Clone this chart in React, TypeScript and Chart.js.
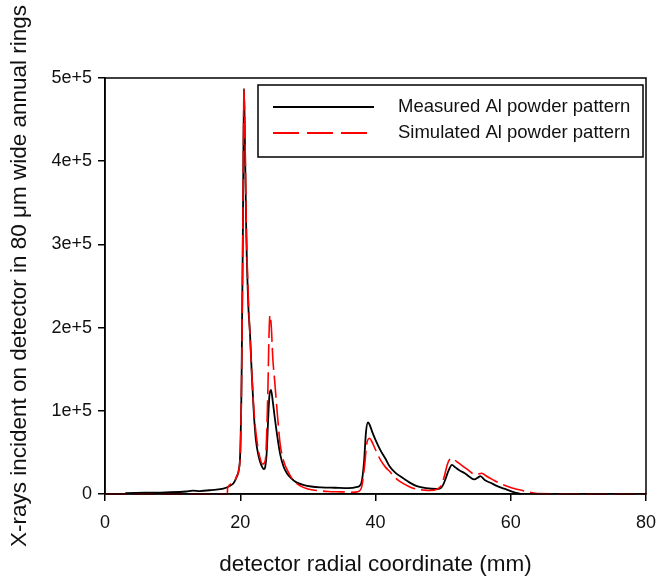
import React, { useEffect, useRef } from "react";
import { Chart, registerables } from "chart.js";

Chart.register(...registerables);

// Measured Al powder pattern (x in mm, y in counts)
const measuredX = [3, 6, 9, 12, 13, 14, 16, 17.5, 18.5, 19.0, 19.5, 19.8, 20.0, 20.2, 20.4, 20.55, 20.7, 20.9, 21.2, 21.45, 21.7, 22.0, 22.3, 22.7, 23.1, 23.5, 23.7, 23.9, 24.1, 24.3, 24.55, 24.8, 25.1, 25.5, 25.9, 26.4, 26.9, 27.5, 28.3, 29.3, 30.5, 32, 34, 36, 37.3, 37.9, 38.3, 38.6, 38.9, 39.2, 39.5, 40.0, 40.7, 41.5, 42.1, 43.0, 44.1, 45.0, 46.1, 47.5, 49.0, 49.6, 50.0, 50.3, 50.8, 51.3, 51.8, 52.5, 53.2, 54.0, 54.6, 55.2, 55.5, 56.2, 57, 58, 59, 60, 60.8, 61.6];
const measuredY = [1000, 1500, 2000, 3000, 4000, 3500, 5000, 6500, 10000, 13000, 21000, 30000, 50000, 140000, 330000, 487000, 420000, 310000, 225000, 192000, 145000, 98000, 66000, 46000, 35000, 30000, 33000, 48000, 85000, 117000, 125000, 112000, 92000, 68000, 48000, 33000, 25000, 19000, 14000, 11000, 9000, 8000, 7500, 7000, 8500, 13000, 38000, 75000, 86000, 82000, 75000, 65000, 53000, 42000, 33000, 25000, 19000, 14000, 9500, 7000, 6000, 7000, 11000, 17000, 28000, 35000, 32000, 28000, 25000, 20000, 17500, 20000, 21600, 16500, 13500, 9500, 6500, 3500, 1500, 0];

// Simulated Al powder pattern
const simulatedX = [0, 18.1, 18.12, 19.0, 19.5, 20.0, 20.2, 20.4, 20.55, 20.7, 20.9, 21.2, 21.5, 21.8, 22.1, 22.5, 22.9, 23.3, 23.7, 23.9, 24.1, 24.25, 24.4, 24.6, 24.8, 25.1, 25.5, 25.9, 26.4, 27.0, 27.8, 28.8, 30, 31.5, 33, 35, 36.5, 37.5, 38.0, 38.4, 38.7, 39.1, 39.4, 39.9, 40.8, 41.5, 42.1, 43, 44, 45, 46, 47, 48, 49, 49.7, 50.2, 50.6, 51.0, 51.3, 52, 53, 54, 54.7, 55.2, 55.7, 56.5, 57.4, 58.5, 59.4, 60.5, 61.4, 62.8, 64, 80];
const simulatedY = [0, 0, 7000, 13000, 22000, 45000, 140000, 330000, 487000, 430000, 320000, 235000, 180000, 130000, 92000, 62000, 44000, 36000, 40000, 70000, 130000, 190000, 215000, 200000, 165000, 135000, 95000, 60000, 40000, 28000, 17000, 10000, 6000, 4000, 3000, 2500, 2000, 3000, 10000, 35000, 60000, 67000, 64000, 55000, 40000, 32000, 27000, 19000, 13000, 8800, 6000, 4800, 4200, 5500, 10000, 22000, 35000, 42000, 43000, 39000, 33000, 27000, 23000, 24000, 25000, 21000, 17000, 12500, 9600, 6500, 4800, 2000, 500, 0];

const xTicks = [0, 20, 40, 60, 80];
const yTicks = [0, 100000, 200000, 300000, 400000, 500000];
const yTickLabels = ["0", "1e+5", "2e+5", "3e+5", "4e+5", "5e+5"];

const legendLabels = ["Measured Al powder pattern", "Simulated Al powder pattern"];
const xTitle = "detector radial coordinate (mm)";
const yTitle = "X-rays incident on detector in 80 \u03bcm wide annual rings";

const FONT = "'Liberation Sans', Arial, sans-serif";

const framePlugin = {
  id: "frameAndLegend",
  afterDatasetsDraw(chart: any) {
    const { ctx, chartArea } = chart;
    ctx.save();
    ctx.strokeStyle = "#000";
    ctx.lineWidth = 1.5;
    ctx.strokeRect(chartArea.left, chartArea.top, chartArea.right - chartArea.left, chartArea.bottom - chartArea.top);
    // legend box
    const bx = 258, by = 85, bw = 385, bh = 72;
    ctx.fillStyle = "#fff";
    ctx.fillRect(bx, by, bw, bh);
    ctx.strokeRect(bx, by, bw, bh);
    ctx.lineWidth = 1.8;
    ctx.beginPath();
    ctx.moveTo(273, 107);
    ctx.lineTo(374, 107);
    ctx.strokeStyle = "#000";
    ctx.stroke();
    ctx.beginPath();
    ctx.setLineDash([26, 8]);
    ctx.moveTo(273, 133);
    ctx.lineTo(374, 133);
    ctx.strokeStyle = "#ff0000";
    ctx.stroke();
    ctx.setLineDash([]);
    ctx.fillStyle = "#111";
    ctx.font = `18.5px ${FONT}`;
    ctx.textBaseline = "middle";
    ctx.textAlign = "left";
    ctx.fillText(legendLabels[0], 398, 107);
    ctx.fillText(legendLabels[1], 398, 133);
    // y-axis title
    ctx.translate(20, 276);
    ctx.rotate(-Math.PI / 2);
    ctx.font = `22.5px ${FONT}`;
    ctx.textAlign = "center";
    ctx.fillText(yTitle, 0, 0);
    ctx.restore();
  },
};

export default function App() {
  const ref = useRef<HTMLCanvasElement>(null);
  useEffect(() => {
    if (!ref.current) return;
    const measured = measuredX.map((x, i) => ({ x, y: measuredY[i] }));
    const simulated = simulatedX.map((x, i) => ({ x, y: simulatedY[i] }));
    const chart = new Chart(ref.current, {
      type: "line",
      data: {
        datasets: [
          {
            label: legendLabels[1],
            data: simulated,
            borderColor: "#ff0000",
            borderWidth: 1.6,
            borderDash: [22, 6],
            pointRadius: 0,
            fill: false,
            cubicInterpolationMode: "monotone",
            clip: false,
          },
          {
            label: legendLabels[0],
            data: measured,
            borderColor: "#000000",
            borderWidth: 1.8,
            pointRadius: 0,
            fill: false,
            cubicInterpolationMode: "monotone",
            clip: false,
          },
        ],
      },
      options: {
        responsive: false,
        animation: false,
        devicePixelRatio: 1,
        layout: { padding: { top: 78, right: 18, left: 0, bottom: 0 } },
        plugins: { legend: { display: false }, tooltip: { enabled: false } },
        scales: {
          x: {
            type: "linear",
            min: 0,
            max: 80,
            afterFit: (s: any) => { s.height = 83; s.paddingLeft = 0; s.paddingRight = 0; },
            afterBuildTicks: (s: any) => { s.ticks = xTicks.map((v) => ({ value: v })); },
            ticks: { color: "#111", font: { family: FONT, size: 18 }, padding: 11, maxRotation: 0 },
            grid: { drawOnChartArea: false, color: "#000", tickLength: 7, lineWidth: 1.5 },
            border: { color: "#000", width: 1.5 },
            title: { display: true, text: xTitle, color: "#111", font: { family: FONT, size: 22.5, lineHeight: 1.05 }, padding: { top: 0, bottom: 0 } },
          },
          y: {
            type: "linear",
            min: 0,
            max: 500000,
            afterFit: (s: any) => { s.width = 105; s.paddingTop = 0; s.paddingBottom = 0; },
            afterBuildTicks: (s: any) => { s.ticks = yTicks.map((v) => ({ value: v })); },
            ticks: {
              color: "#111",
              font: { family: FONT, size: 18 },
              padding: 6,
              callback: (v: any) => yTickLabels[yTicks.indexOf(Number(v))] ?? "",
            },
            grid: { drawOnChartArea: false, color: "#000", tickLength: 7, lineWidth: 1.5 },
            border: { color: "#000", width: 1.5 },
            title: { display: false },
          },
        },
      },
      plugins: [framePlugin],
    });
    return () => chart.destroy();
  }, []);
  return (
    <div style={{ position: "absolute", left: 0, top: 0, width: 664, height: 577, background: "#fff" }}>
      <canvas ref={ref} width={664} height={577} />
    </div>
  );
}
